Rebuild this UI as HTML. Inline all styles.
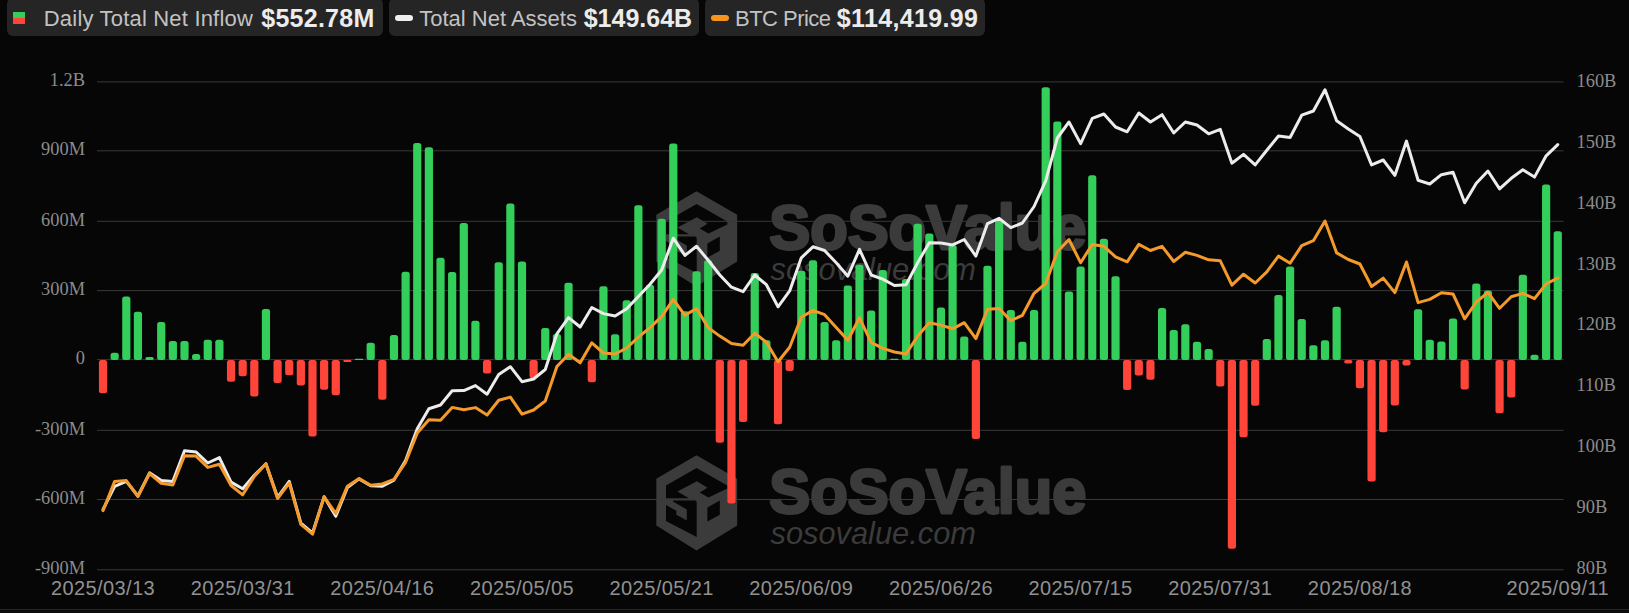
<!DOCTYPE html>
<html><head><meta charset="utf-8"><title>ETF Flow Chart</title>
<style>
html,body{margin:0;padding:0;}
body{width:1629px;height:613px;overflow:hidden;background:#060606;position:relative;font-family:"Liberation Sans",sans-serif;}
.lg{position:absolute;top:-2px;height:37.5px;background:#252525;border-radius:6px;}
.lg span{position:absolute;white-space:nowrap;}
.lt{font-size:22px;color:#c2c2c2;top:8px;line-height:26px;}
.lv{font-size:25px;font-weight:bold;color:#ececec;top:4.5px;line-height:30px;}
svg{position:absolute;left:0;top:0;}
.ax{font-family:"Liberation Serif",serif;font-size:18.4px;fill:#8c8c8c;}
.dt{font-family:"Liberation Sans",sans-serif;font-size:20px;letter-spacing:0.4px;fill:#919191;}
</style></head><body>
<div class="lg" style="left:7.3px;width:375.7px;">
<div style="position:absolute;left:5.5px;top:13.8px;width:12.3px;height:6.2px;background:#33cf5a"></div>
<div style="position:absolute;left:5.5px;top:20px;width:12.3px;height:6.2px;background:#ff453a"></div>
<span class="lt" id="t1" style="left:36.5px;letter-spacing:0.19px">Daily Total Net Inflow</span>
<span class="lv" id="v1" style="left:254px;letter-spacing:0.25px">$552.78M</span>
</div>
<div class="lg" style="left:389.2px;width:309.6px;">
<div style="position:absolute;left:5.8px;top:16.9px;width:18px;height:6.2px;border-radius:3.1px;background:#efefef"></div>
<span class="lt" id="t2" style="left:30px">Total Net Assets</span>
<span class="lv" id="v2" style="left:194.5px">$149.64B</span>
</div>
<div class="lg" style="left:705.1px;width:280.1px;">
<div style="position:absolute;left:5.6px;top:16.9px;width:18.4px;height:6.2px;border-radius:3.1px;background:#f7941d"></div>
<span class="lt" id="t3" style="left:30px;letter-spacing:-0.55px">BTC Price</span>
<span class="lv" id="v3" style="left:131.7px;letter-spacing:0.36px">$114,419.99</span>
</div>
<svg width="1629" height="613" viewBox="0 0 1629 613">
<g transform="translate(0,-264)"><polygon points="696.5,455.2 737.2,478.7 737.2,525.6 696.5,550.6 656.3,525.6 656.3,478.7" fill="#3b3b3b"/><polygon points="666,485.4 696.6,467.9 727.3,485.4 727.3,488.6 708.5,497.6 699.6,492.4 707.6,487.8 696.8,481.2 677.4,491.4 689,498.2 666,498.2" fill="#060606"/><polygon points="666,505 676.3,510.8 676.3,514.8 686.8,520.6 686.8,509.5 673,501.6 673,500.4 695.5,500.4 696.7,502 696.7,536.9 666,521" fill="#060606"/><polygon points="707.4,507.4 719.8,500.6 719.8,514.8 707.4,521.6" fill="#060606"/><text x="769.3" y="513.2" font-family="Liberation Sans" font-weight="bold" font-size="63" fill="#3b3b3b" stroke="#3b3b3b" stroke-width="3" stroke-linejoin="round" textLength="317" lengthAdjust="spacingAndGlyphs">SoSoValue</text><text x="770.5" y="544.3" font-family="Liberation Sans" font-style="italic" font-size="31.5" fill="#3b3b3b" textLength="205.5" lengthAdjust="spacingAndGlyphs">sosovalue.com</text></g>
<g transform="translate(0,0)"><polygon points="696.5,455.2 737.2,478.7 737.2,525.6 696.5,550.6 656.3,525.6 656.3,478.7" fill="#3b3b3b"/><polygon points="666,485.4 696.6,467.9 727.3,485.4 727.3,488.6 708.5,497.6 699.6,492.4 707.6,487.8 696.8,481.2 677.4,491.4 689,498.2 666,498.2" fill="#060606"/><polygon points="666,505 676.3,510.8 676.3,514.8 686.8,520.6 686.8,509.5 673,501.6 673,500.4 695.5,500.4 696.7,502 696.7,536.9 666,521" fill="#060606"/><polygon points="707.4,507.4 719.8,500.6 719.8,514.8 707.4,521.6" fill="#060606"/><text x="769.3" y="513.2" font-family="Liberation Sans" font-weight="bold" font-size="63" fill="#3b3b3b" stroke="#3b3b3b" stroke-width="3" stroke-linejoin="round" textLength="317" lengthAdjust="spacingAndGlyphs">SoSoValue</text><text x="770.5" y="544.3" font-family="Liberation Sans" font-style="italic" font-size="31.5" fill="#3b3b3b" textLength="205.5" lengthAdjust="spacingAndGlyphs">sosovalue.com</text></g>
<rect x="97" y="81.4" width="1466.5" height="1" fill="#393939"/>
<rect x="97" y="150.3" width="1466.5" height="1" fill="#393939"/>
<rect x="97" y="220.8" width="1466.5" height="1" fill="#393939"/>
<rect x="97" y="290.1" width="1466.5" height="1" fill="#393939"/>
<rect x="97" y="359.1" width="1466.5" height="1" fill="#393939"/>
<rect x="97" y="429.8" width="1466.5" height="1" fill="#393939"/>
<rect x="97" y="499" width="1466.5" height="1" fill="#393939"/>
<rect x="97" y="569.3" width="1466.5" height="1" fill="#393939"/>
<rect x="0" y="609" width="1629" height="1" fill="#242424"/>
<rect x="0" y="610" width="1629" height="3" fill="#0c0c0c"/>
<rect x="98.92" y="360" width="8.2" height="33.3" rx="2.5" fill="#ff453a"/>
<rect x="110.56" y="352.8" width="8.2" height="7.2" rx="2.5" fill="#33cf5a"/>
<rect x="122.2" y="296.5" width="8.2" height="63.5" rx="2.5" fill="#33cf5a"/>
<rect x="133.83" y="311.7" width="8.2" height="48.3" rx="2.5" fill="#33cf5a"/>
<rect x="145.47" y="357" width="8.2" height="3" rx="1.5" fill="#33cf5a"/>
<rect x="157.11" y="322" width="8.2" height="38" rx="2.5" fill="#33cf5a"/>
<rect x="168.75" y="341" width="8.2" height="19" rx="2.5" fill="#33cf5a"/>
<rect x="180.39" y="341" width="8.2" height="19" rx="2.5" fill="#33cf5a"/>
<rect x="192.02" y="354" width="8.2" height="6" rx="2.5" fill="#33cf5a"/>
<rect x="203.66" y="339.8" width="8.2" height="20.2" rx="2.5" fill="#33cf5a"/>
<rect x="215.3" y="339.8" width="8.2" height="20.2" rx="2.5" fill="#33cf5a"/>
<rect x="226.94" y="360" width="8.2" height="21.8" rx="2.5" fill="#ff453a"/>
<rect x="238.58" y="360" width="8.2" height="16.2" rx="2.5" fill="#ff453a"/>
<rect x="250.21" y="360" width="8.2" height="36.5" rx="2.5" fill="#ff453a"/>
<rect x="261.85" y="309" width="8.2" height="51" rx="2.5" fill="#33cf5a"/>
<rect x="273.49" y="360" width="8.2" height="23" rx="2.5" fill="#ff453a"/>
<rect x="285.13" y="360" width="8.2" height="15.2" rx="2.5" fill="#ff453a"/>
<rect x="296.76" y="360" width="8.2" height="25.5" rx="2.5" fill="#ff453a"/>
<rect x="308.4" y="360" width="8.2" height="76.4" rx="2.5" fill="#ff453a"/>
<rect x="320.04" y="360" width="8.2" height="29.8" rx="2.5" fill="#ff453a"/>
<rect x="331.68" y="360" width="8.2" height="35.3" rx="2.5" fill="#ff453a"/>
<rect x="343.32" y="360" width="8.2" height="2" rx="1" fill="#ff453a"/>
<rect x="354.95" y="358.8" width="8.2" height="1.2" rx="0.6" fill="#33cf5a"/>
<rect x="366.59" y="342.8" width="8.2" height="17.2" rx="2.5" fill="#33cf5a"/>
<rect x="378.23" y="360" width="8.2" height="39.7" rx="2.5" fill="#ff453a"/>
<rect x="389.87" y="335" width="8.2" height="25" rx="2.5" fill="#33cf5a"/>
<rect x="401.51" y="271.8" width="8.2" height="88.2" rx="2.5" fill="#33cf5a"/>
<rect x="413.14" y="142.9" width="8.2" height="217.1" rx="2.5" fill="#33cf5a"/>
<rect x="424.78" y="147.3" width="8.2" height="212.7" rx="2.5" fill="#33cf5a"/>
<rect x="436.42" y="257.8" width="8.2" height="102.2" rx="2.5" fill="#33cf5a"/>
<rect x="448.06" y="272" width="8.2" height="88" rx="2.5" fill="#33cf5a"/>
<rect x="459.7" y="222.9" width="8.2" height="137.1" rx="2.5" fill="#33cf5a"/>
<rect x="471.33" y="320.7" width="8.2" height="39.3" rx="2.5" fill="#33cf5a"/>
<rect x="482.97" y="360" width="8.2" height="13.4" rx="2.5" fill="#ff453a"/>
<rect x="494.61" y="262.2" width="8.2" height="97.8" rx="2.5" fill="#33cf5a"/>
<rect x="506.25" y="203.5" width="8.2" height="156.5" rx="2.5" fill="#33cf5a"/>
<rect x="517.89" y="261.5" width="8.2" height="98.5" rx="2.5" fill="#33cf5a"/>
<rect x="529.52" y="360" width="8.2" height="18.3" rx="2.5" fill="#ff453a"/>
<rect x="541.16" y="328" width="8.2" height="32" rx="2.5" fill="#33cf5a"/>
<rect x="552.8" y="334" width="8.2" height="26" rx="2.5" fill="#33cf5a"/>
<rect x="564.44" y="282.8" width="8.2" height="77.2" rx="2.5" fill="#33cf5a"/>
<rect x="587.72" y="360" width="8.2" height="22.3" rx="2.5" fill="#ff453a"/>
<rect x="599.35" y="286.2" width="8.2" height="73.8" rx="2.5" fill="#33cf5a"/>
<rect x="610.99" y="334.2" width="8.2" height="25.8" rx="2.5" fill="#33cf5a"/>
<rect x="622.63" y="300.2" width="8.2" height="59.8" rx="2.5" fill="#33cf5a"/>
<rect x="634.27" y="205.3" width="8.2" height="154.7" rx="2.5" fill="#33cf5a"/>
<rect x="645.9" y="284.7" width="8.2" height="75.3" rx="2.5" fill="#33cf5a"/>
<rect x="657.54" y="218.7" width="8.2" height="141.3" rx="2.5" fill="#33cf5a"/>
<rect x="669.18" y="143.6" width="8.2" height="216.4" rx="2.5" fill="#33cf5a"/>
<rect x="680.82" y="311.2" width="8.2" height="48.8" rx="2.5" fill="#33cf5a"/>
<rect x="692.46" y="271.3" width="8.2" height="88.7" rx="2.5" fill="#33cf5a"/>
<rect x="704.1" y="260.3" width="8.2" height="99.7" rx="2.5" fill="#33cf5a"/>
<rect x="715.73" y="360" width="8.2" height="82.8" rx="2.5" fill="#ff453a"/>
<rect x="727.37" y="360" width="8.2" height="143.5" rx="2.5" fill="#ff453a"/>
<rect x="739.01" y="360" width="8.2" height="61.9" rx="2.5" fill="#ff453a"/>
<rect x="750.65" y="273" width="8.2" height="87" rx="2.5" fill="#33cf5a"/>
<rect x="762.28" y="340.3" width="8.2" height="19.7" rx="2.5" fill="#33cf5a"/>
<rect x="773.92" y="360" width="8.2" height="64.3" rx="2.5" fill="#ff453a"/>
<rect x="785.56" y="360" width="8.2" height="11" rx="2.5" fill="#ff453a"/>
<rect x="797.2" y="270.8" width="8.2" height="89.2" rx="2.5" fill="#33cf5a"/>
<rect x="808.84" y="260.3" width="8.2" height="99.7" rx="2.5" fill="#33cf5a"/>
<rect x="820.48" y="322" width="8.2" height="38" rx="2.5" fill="#33cf5a"/>
<rect x="832.11" y="340.3" width="8.2" height="19.7" rx="2.5" fill="#33cf5a"/>
<rect x="843.75" y="285.5" width="8.2" height="74.5" rx="2.5" fill="#33cf5a"/>
<rect x="855.39" y="264.7" width="8.2" height="95.3" rx="2.5" fill="#33cf5a"/>
<rect x="867.03" y="310.4" width="8.2" height="49.6" rx="2.5" fill="#33cf5a"/>
<rect x="878.66" y="270" width="8.2" height="90" rx="2.5" fill="#33cf5a"/>
<rect x="890.3" y="358.8" width="8.2" height="1.2" rx="0.6" fill="#33cf5a"/>
<rect x="901.94" y="279.1" width="8.2" height="80.9" rx="2.5" fill="#33cf5a"/>
<rect x="913.58" y="223.8" width="8.2" height="136.2" rx="2.5" fill="#33cf5a"/>
<rect x="925.22" y="233.4" width="8.2" height="126.6" rx="2.5" fill="#33cf5a"/>
<rect x="936.86" y="307.5" width="8.2" height="52.5" rx="2.5" fill="#33cf5a"/>
<rect x="948.49" y="244.9" width="8.2" height="115.1" rx="2.5" fill="#33cf5a"/>
<rect x="960.13" y="336.6" width="8.2" height="23.4" rx="2.5" fill="#33cf5a"/>
<rect x="971.77" y="360" width="8.2" height="79" rx="2.5" fill="#ff453a"/>
<rect x="983.41" y="265.7" width="8.2" height="94.3" rx="2.5" fill="#33cf5a"/>
<rect x="995.04" y="220" width="8.2" height="140" rx="2.5" fill="#33cf5a"/>
<rect x="1006.68" y="310" width="8.2" height="50" rx="2.5" fill="#33cf5a"/>
<rect x="1018.32" y="341.8" width="8.2" height="18.2" rx="2.5" fill="#33cf5a"/>
<rect x="1029.96" y="310" width="8.2" height="50" rx="2.5" fill="#33cf5a"/>
<rect x="1041.6" y="87.3" width="8.2" height="272.7" rx="2.5" fill="#33cf5a"/>
<rect x="1053.24" y="121.6" width="8.2" height="238.4" rx="2.5" fill="#33cf5a"/>
<rect x="1064.87" y="291.4" width="8.2" height="68.6" rx="2.5" fill="#33cf5a"/>
<rect x="1076.51" y="266.4" width="8.2" height="93.6" rx="2.5" fill="#33cf5a"/>
<rect x="1088.15" y="175.2" width="8.2" height="184.8" rx="2.5" fill="#33cf5a"/>
<rect x="1099.79" y="238.7" width="8.2" height="121.3" rx="2.5" fill="#33cf5a"/>
<rect x="1111.43" y="276.2" width="8.2" height="83.8" rx="2.5" fill="#33cf5a"/>
<rect x="1123.06" y="360" width="8.2" height="30.1" rx="2.5" fill="#ff453a"/>
<rect x="1134.7" y="360" width="8.2" height="15.4" rx="2.5" fill="#ff453a"/>
<rect x="1146.34" y="360" width="8.2" height="19.8" rx="2.5" fill="#ff453a"/>
<rect x="1157.98" y="308" width="8.2" height="52" rx="2.5" fill="#33cf5a"/>
<rect x="1169.62" y="330" width="8.2" height="30" rx="2.5" fill="#33cf5a"/>
<rect x="1181.25" y="324.2" width="8.2" height="35.8" rx="2.5" fill="#33cf5a"/>
<rect x="1192.89" y="341.8" width="8.2" height="18.2" rx="2.5" fill="#33cf5a"/>
<rect x="1204.53" y="349.1" width="8.2" height="10.9" rx="2.5" fill="#33cf5a"/>
<rect x="1216.17" y="360" width="8.2" height="26.4" rx="2.5" fill="#ff453a"/>
<rect x="1227.81" y="360" width="8.2" height="188.7" rx="2.5" fill="#ff453a"/>
<rect x="1239.44" y="360" width="8.2" height="77.3" rx="2.5" fill="#ff453a"/>
<rect x="1251.08" y="360" width="8.2" height="45.8" rx="2.5" fill="#ff453a"/>
<rect x="1262.72" y="339.1" width="8.2" height="20.9" rx="2.5" fill="#33cf5a"/>
<rect x="1274.36" y="295" width="8.2" height="65" rx="2.5" fill="#33cf5a"/>
<rect x="1286" y="266.4" width="8.2" height="93.6" rx="2.5" fill="#33cf5a"/>
<rect x="1297.63" y="319" width="8.2" height="41" rx="2.5" fill="#33cf5a"/>
<rect x="1309.27" y="345.2" width="8.2" height="14.8" rx="2.5" fill="#33cf5a"/>
<rect x="1320.91" y="340.3" width="8.2" height="19.7" rx="2.5" fill="#33cf5a"/>
<rect x="1332.55" y="306.8" width="8.2" height="53.2" rx="2.5" fill="#33cf5a"/>
<rect x="1344.19" y="360" width="8.2" height="3.6" rx="1.8" fill="#ff453a"/>
<rect x="1355.82" y="360" width="8.2" height="28.3" rx="2.5" fill="#ff453a"/>
<rect x="1367.46" y="360" width="8.2" height="121.6" rx="2.5" fill="#ff453a"/>
<rect x="1379.1" y="360" width="8.2" height="72.3" rx="2.5" fill="#ff453a"/>
<rect x="1390.74" y="360" width="8.2" height="45.5" rx="2.5" fill="#ff453a"/>
<rect x="1402.38" y="360" width="8.2" height="5.6" rx="2.5" fill="#ff453a"/>
<rect x="1414.01" y="309.2" width="8.2" height="50.8" rx="2.5" fill="#33cf5a"/>
<rect x="1425.65" y="339.8" width="8.2" height="20.2" rx="2.5" fill="#33cf5a"/>
<rect x="1437.29" y="341.5" width="8.2" height="18.5" rx="2.5" fill="#33cf5a"/>
<rect x="1448.93" y="318.5" width="8.2" height="41.5" rx="2.5" fill="#33cf5a"/>
<rect x="1460.57" y="360" width="8.2" height="29.6" rx="2.5" fill="#ff453a"/>
<rect x="1472.2" y="283.4" width="8.2" height="76.6" rx="2.5" fill="#33cf5a"/>
<rect x="1483.84" y="290.5" width="8.2" height="69.5" rx="2.5" fill="#33cf5a"/>
<rect x="1495.48" y="360" width="8.2" height="53.3" rx="2.5" fill="#ff453a"/>
<rect x="1507.12" y="360" width="8.2" height="37.4" rx="2.5" fill="#ff453a"/>
<rect x="1518.76" y="274.7" width="8.2" height="85.3" rx="2.5" fill="#33cf5a"/>
<rect x="1530.39" y="354.8" width="8.2" height="5.2" rx="2.5" fill="#33cf5a"/>
<rect x="1542.03" y="184.5" width="8.2" height="175.5" rx="2.5" fill="#33cf5a"/>
<rect x="1553.67" y="231.3" width="8.2" height="128.7" rx="2.5" fill="#33cf5a"/>
<polyline points="103.02,509.5 114.66,486.3 126.3,481.4 137.93,496 149.57,472.8 161.21,480.6 172.85,481.4 184.49,450.8 196.12,452 207.76,463 219.4,457.6 231.04,482.1 242.68,488.7 254.31,475.2 265.95,463.7 277.59,497.3 289.23,481.4 300.87,523.2 312.5,533 324.14,496.8 335.78,516.3 347.42,487.5 359.06,478.9 370.69,485.8 382.33,486.3 393.97,480.1 405.61,460.6 417.25,428.7 428.88,408.7 440.52,405 452.16,390.8 463.8,390.6 475.44,385.6 487.07,394.2 498.71,374.6 510.35,366.7 521.99,381.7 533.62,379 545.26,369.5 556.9,333.8 568.54,317.6 580.18,327 591.82,307.5 603.45,313.6 615.09,316 626.73,308.7 638.37,296.5 650,284.3 661.64,270 673.28,238.2 684.92,255.4 696.56,246.3 708.2,260.3 719.83,275 731.47,287.2 743.11,291.6 754.75,275 766.38,284.7 778.02,306.8 789.66,290.9 801.3,257.8 812.94,246.8 824.58,250.5 836.21,262.7 847.85,276.2 859.49,249.3 871.13,275 882.76,279.1 894.4,285.5 906.04,284.7 917.68,262.7 929.32,242.7 940.96,243.1 952.59,244.9 964.23,239.5 975.87,256.1 987.51,223.6 999.14,218.3 1010.78,227.6 1022.42,223 1034.06,206.5 1045.7,180.8 1057.34,138 1068.97,122 1080.61,143.6 1092.25,118.4 1103.89,114 1115.53,127 1127.16,131.8 1138.8,113 1150.44,122 1162.08,114.7 1173.72,133 1185.35,122 1196.99,125 1208.63,133.8 1220.27,129.4 1231.9,163.2 1243.54,154.4 1255.18,164.9 1266.82,150.2 1278.46,136 1290.1,137.5 1301.73,115.2 1313.37,111 1325.01,89.7 1336.65,120.8 1348.29,129 1359.92,136.5 1371.56,164.9 1383.2,160 1394.84,175.4 1406.48,141.1 1418.11,180.3 1429.75,184 1441.39,174.7 1453.03,172.2 1464.66,202.8 1476.3,183.2 1487.94,171 1499.58,188.9 1511.22,178.3 1522.86,169.8 1534.49,177.1 1546.13,155.8 1557.77,144.6" fill="none" stroke="#ececec" stroke-width="3" stroke-linejoin="round" stroke-linecap="round"/>
<polyline points="103.02,510.6 114.66,481.4 126.3,480.6 137.93,496.5 149.57,473.5 161.21,483.3 172.85,485 184.49,455.7 196.12,456.1 207.76,467.4 219.4,464.2 231.04,485.5 242.68,494.8 254.31,476.5 265.95,463.7 277.59,498.5 289.23,483.1 300.87,524.4 312.5,534.2 324.14,496.8 335.78,513.5 347.42,486.2 359.06,478.6 370.69,485.2 382.33,483.9 393.97,479.4 405.61,462.3 417.25,433.1 428.88,419.7 440.52,420.2 452.16,407.4 463.8,409.8 475.44,407.6 487.07,415 498.71,400.3 510.35,397.1 521.99,414.2 533.62,410 545.26,401 556.9,366.5 568.54,354.2 580.18,362.8 591.82,342.8 603.45,353 615.09,354 626.73,348 638.37,337.2 650,327.6 661.64,316.6 673.28,299.4 684.92,315.3 696.56,308.5 708.2,327.6 719.83,336.1 731.47,343.5 743.11,345.2 754.75,333.2 766.38,342.3 778.02,361.8 789.66,347.2 801.3,317.3 812.94,310.4 824.58,314.7 836.21,327.6 847.85,340.3 859.49,317.8 871.13,342.3 882.76,348.4 894.4,352 906.04,354 917.68,336.1 929.32,322.7 940.96,325.1 952.59,328.8 964.23,322.7 975.87,338.6 987.51,309.2 999.14,308.5 1010.78,320.7 1022.42,315.3 1034.06,293.3 1045.7,283.5 1057.34,251.7 1068.97,239.5 1080.61,262.7 1092.25,244.4 1103.89,246.3 1115.53,256.8 1127.16,261.8 1138.8,244.4 1150.44,250.5 1162.08,246.3 1173.72,261.5 1185.35,252.3 1196.99,255.4 1208.63,259.8 1220.27,260.8 1231.9,285.2 1243.54,274.2 1255.18,283 1266.82,271.8 1278.46,256.1 1290.1,263.2 1301.73,245.6 1313.37,240.7 1325.01,221.1 1336.65,252.9 1348.29,259.5 1359.92,264 1371.56,286.5 1383.2,278.1 1394.84,292.6 1406.48,262 1418.11,302.6 1429.75,299.4 1441.39,292.8 1453.03,294 1464.66,318.8 1476.3,302 1487.94,292.3 1499.58,308.3 1511.22,296.8 1522.86,293.4 1534.49,298.7 1546.13,283.8 1557.77,278" fill="none" stroke="#f39a2b" stroke-width="3" stroke-linejoin="round" stroke-linecap="round"/>
<text class="ax" x="85" y="86.2" text-anchor="end">1.2B</text>
<text class="ax" x="85" y="155.1" text-anchor="end">900M</text>
<text class="ax" x="85" y="225.6" text-anchor="end">600M</text>
<text class="ax" x="85" y="294.9" text-anchor="end">300M</text>
<text class="ax" x="85" y="363.9" text-anchor="end">0</text>
<text class="ax" x="85" y="434.6" text-anchor="end">-300M</text>
<text class="ax" x="85" y="503.8" text-anchor="end">-600M</text>
<text class="ax" x="85" y="574.1" text-anchor="end">-900M</text>
<text class="ax" x="1576.5" y="87.1">160B</text>
<text class="ax" x="1576.5" y="147.93">150B</text>
<text class="ax" x="1576.5" y="208.76">140B</text>
<text class="ax" x="1576.5" y="269.59">130B</text>
<text class="ax" x="1576.5" y="330.42">120B</text>
<text class="ax" x="1576.5" y="391.25">110B</text>
<text class="ax" x="1576.5" y="452.08">100B</text>
<text class="ax" x="1576.5" y="512.91">90B</text>
<text class="ax" x="1576.5" y="573.74">80B</text>
<text class="dt" x="103.02" y="595" text-anchor="middle">2025/03/13</text>
<text class="dt" x="242.68" y="595" text-anchor="middle">2025/03/31</text>
<text class="dt" x="382.33" y="595" text-anchor="middle">2025/04/16</text>
<text class="dt" x="521.99" y="595" text-anchor="middle">2025/05/05</text>
<text class="dt" x="661.64" y="595" text-anchor="middle">2025/05/21</text>
<text class="dt" x="801.3" y="595" text-anchor="middle">2025/06/09</text>
<text class="dt" x="940.96" y="595" text-anchor="middle">2025/06/26</text>
<text class="dt" x="1080.61" y="595" text-anchor="middle">2025/07/15</text>
<text class="dt" x="1220.27" y="595" text-anchor="middle">2025/07/31</text>
<text class="dt" x="1359.92" y="595" text-anchor="middle">2025/08/18</text>
<text class="dt" x="1557.77" y="595" text-anchor="middle">2025/09/11</text>
</svg>
</body></html>
